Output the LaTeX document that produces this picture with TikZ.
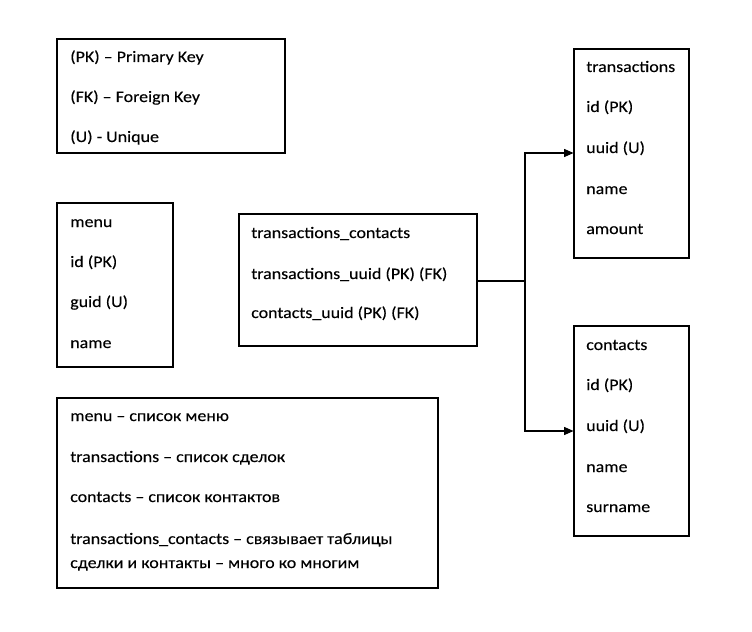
\documentclass[tikz,border=0pt]{standalone}
\usepackage{fontspec}
\setmainfont{Carlito}[FakeStretch=1.12,FakeBold=0.2]
\usetikzlibrary{fit,arrows.meta}
\begin{document}
\begin{tikzpicture}[x=0.75pt,y=-0.75pt,
  box/.style={draw=black,line width=0.8pt,inner sep=0pt},
  txt/.style={anchor=base west,inner sep=0pt,font=\fontsize{12}{14}\selectfont},
  conn/.style={draw=black,line width=0.8pt},
  arr/.style={conn,-{Triangle[length=7pt,width=6pt]}}]
\useasboundingbox (0,0) rectangle (752,631);
% legend
\node[box,fit={(57,39)(285,153)}] (leg) {};
\node[txt] (leg1) at (70,62) {(PK) – Primary Key};
\node[txt] (leg2) at (70,102) {(FK) – Foreign Key};
\node[txt] (leg3) at (70,142) {(U) - Unique};
% menu
\node[box,fit={(57,203)(173,367)}] (menu) {};
\node[txt] (m1) at (70,227) {menu};
\node[txt] (m2) at (70,267) {id (PK)};
\node[txt] (m3) at (70,307) {guid (U)};
\node[txt] (m4) at (70,348) {name};
% transactions_contacts
\node[box,fit={(239,214)(477,346)}] (tc) {};
\node[txt] (tc1) at (251,238) {transactions\_contacts};
\node[txt] (tc2) at (251,279) {transactions\_uuid (PK) (FK)};
\node[txt] (tc3) at (251,318) {contacts\_uuid (PK) (FK)};
% transactions
\node[box,fit={(574,49)(689,258)}] (tr) {};
\node[txt] (tr1) at (586,72) {transactions};
\node[txt] (tr2) at (586,112) {id (PK)};
\node[txt] (tr3) at (586,153) {uuid (U)};
\node[txt] (tr4) at (586,194) {name};
\node[txt] (tr5) at (586,234) {amount};
% contacts
\node[box,fit={(574,326)(689,536)}] (ct) {};
\node[txt] (ct1) at (586,350) {contacts};
\node[txt] (ct2) at (586,390) {id (PK)};
\node[txt] (ct3) at (586,431) {uuid (U)};
\node[txt] (ct4) at (586,472) {name};
\node[txt] (ct5) at (586,512) {surname};
% description
\node[box,fit={(57,398)(438,588)}] (desc) {};
\node[txt] (d1) at (70,421) {menu – список меню};
\node[txt] (d2) at (70,462) {transactions – список сделок};
\node[txt] (d3) at (70,502) {contacts – список контактов};
\node[txt] (d4) at (70,544) {transactions\_contacts – связывает таблицы};
\node[txt] (d5) at (70,568) {сделки и контакты – много ко многим};
% connectors
\coordinate (j) at (525,281);
\draw[conn] (tc.east |- j) -- (j);
\draw[arr] (j) |- (tr.west |- tr3.base);
\draw[arr] (j) |- (ct.west |- ct3.base);
\end{tikzpicture}
\end{document}
